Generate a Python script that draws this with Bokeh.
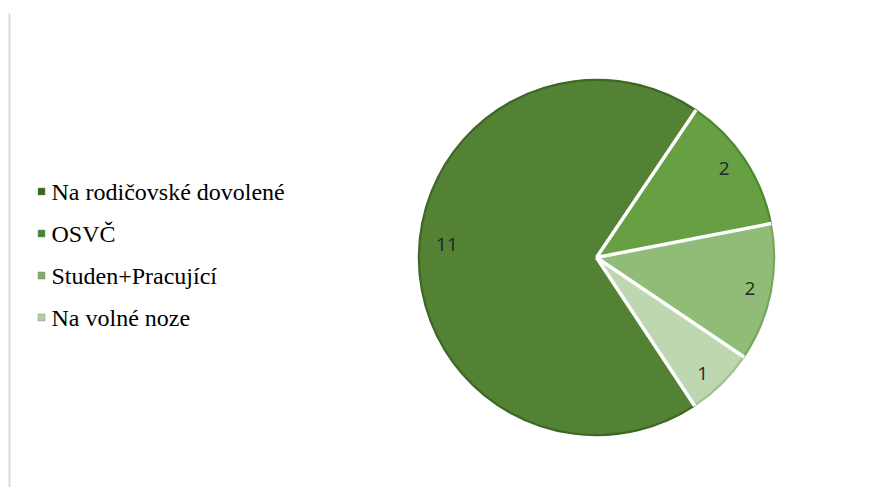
import math
from bokeh.plotting import figure
from bokeh.models import Range1d, ColumnDataSource
from bokeh.core.properties import value
from bokeh.embed import file_html
from bokeh.resources import INLINE

# ---- data ----
categories = ["Na rodičovské dovolené", "OSVČ", "Studen+Pracující", "Na volné noze"]
counts = [11, 2, 2, 1]
labels = ["11", "2", "2", "1"]

# ---- styles ----
slice_colors = ["#548235", "#66a043", "#91bc77", "#bfd7b0"]
edge_colors = ["#3d6826", "#4e8a30", "#78a75c", "#a3c290"]
legend_colors = ["#2f6a1d", "#3f8a2a", "#7fae62", "#b3cfa1"]
label_frac = [0.84, 0.88, 0.88, 0.88]
label_dx = [0, -3, 0, -4]
label_dy = [12, 3, 0, -5]

W, H = 876, 487
p = figure(width=W, height=H, x_range=Range1d(0, W), y_range=Range1d(0, H),
           output_backend="svg", toolbar_location=None, min_border=0,
           x_axis_type=None, y_axis_type=None)
p.grid.visible = False
p.outline_line_color = None
p.background_fill_color = "white"
p.border_fill_color = "white"

def Y(sy):
    return H - sy

# left chart border line
p.segment(x0=[9], y0=[Y(13)], x1=[9], y1=[-5], line_color="#d9d9d9", line_width=2)

# pie geometry
cx, cy, r = 596, Y(257), 178
first_angle = 146.5  # degrees clockwise from 12 o'clock
total = sum(counts)
deg_per = 360.0 / total

starts, ends, mids = [], [], []
cum = 0
for v in counts:
    t0 = first_angle + cum * deg_per
    t1 = t0 + v * deg_per
    starts.append(math.radians(90 - t0))
    ends.append(math.radians(90 - t1))
    mids.append(math.radians((t0 + t1) / 2))
    cum += v

src = ColumnDataSource(dict(start=starts, end=ends, fill=slice_colors, edge=edge_colors))
p.wedge(x=cx, y=cy, radius=r, start_angle="start", end_angle="end", direction="clock",
        fill_color="fill", line_color="edge", line_width=1.5, source=src)
p.annular_wedge(x=cx, y=cy, inner_radius=r - 1.5, outer_radius=r, start_angle="start",
                end_angle="end", direction="clock", fill_color="edge", line_color=None, source=src)
# white separators
for a in starts:
    p.segment(x0=[cx], y0=[cy], x1=[cx + r * math.cos(a)], y1=[cy + r * math.sin(a)],
              line_color="white", line_width=3.5)

# data labels
lx = [cx + f * r * math.sin(m) + dx for f, m, dx in zip(label_frac, mids, label_dx)]
ly = [cy + f * r * math.cos(m) + dy for f, m, dy in zip(label_frac, mids, label_dy)]
p.text(x=lx, y=ly, text=labels, text_align="center", text_baseline="middle",
       text_font=value("Open Sans"), text_font_size="19px", text_color="#262626")

# legend
leg_y = [Y(191), Y(233), Y(275), Y(317)]
p.rect(x=[41] * 4, y=leg_y, width=7, height=7, fill_color=legend_colors,
       line_color="#8a8a8a", line_width=0.5)
p.text(x=[51] * 4, y=leg_y, text=categories, text_align="left", text_baseline="middle",
       text_font=value("Liberation Serif"), text_font_size="24px", text_color="#000000")

open("out.html", "w").write(file_html(p, INLINE))
